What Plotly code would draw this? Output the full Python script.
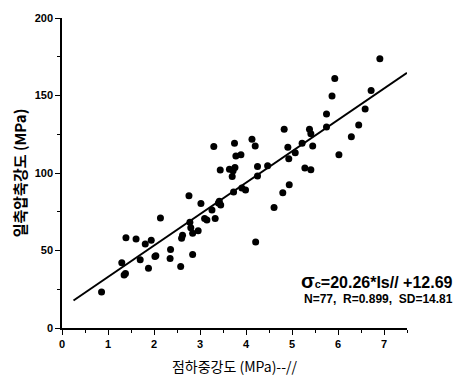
import plotly.graph_objects as go

# Point-load strength index Is (MPa) and uniaxial compressive strength (MPa)
point_load = [
    0.86, 1.30, 1.35, 1.38, 1.39, 1.61, 1.70, 1.81, 1.94, 1.88,
    2.02, 2.04, 2.14, 2.36, 2.35, 2.58, 2.76, 2.60, 2.62, 2.78,
    2.80, 2.84, 2.96, 2.84, 3.02, 3.10, 3.15, 3.26, 3.33, 3.42,
    3.45, 3.40, 3.73, 3.91, 3.99, 3.30, 3.75, 4.13, 4.20, 3.78,
    3.89, 3.44, 3.64, 3.76, 3.70, 3.72, 4.25, 4.25, 4.47, 4.83,
    4.91, 4.93, 5.07, 4.94, 4.80, 4.61, 4.21, 5.22, 5.38, 5.41,
    5.45, 5.28, 5.41, 5.75, 5.75, 5.87, 5.93, 6.02, 6.29, 6.45,
    6.59, 6.72, 6.91,
]
ucs = [
    23.2, 42.1, 34.2, 35.1, 58.2, 57.4, 44.0, 54.2, 56.6, 38.6,
    46.2, 46.6, 70.9, 50.6, 44.9, 39.6, 85.4, 57.9, 59.8, 68.2,
    64.6, 61.1, 62.8, 47.5, 80.4, 70.7, 69.6, 76.1, 70.6, 81.8,
    79.4, 80.7, 87.7, 90.3, 89.1, 117.1, 119.2, 121.7, 117.5, 110.9,
    111.8, 101.9, 102.5, 103.6, 97.7, 101.5, 104.2, 98.1, 104.6, 128.2,
    116.6, 109.2, 113.0, 92.4, 87.2, 77.7, 55.5, 119.2, 128.3, 125.3,
    117.5, 103.2, 102.1, 138.0, 129.7, 149.7, 160.9, 111.8, 123.4, 130.9,
    141.3, 153.2, 173.7,
]

# Regression: sigma_c = 20.26 * Is + 12.69
slope = 20.26
intercept = 12.69
fit_x = [0.25, 7.5]
fit_y = [slope * v + intercept for v in fit_x]

x_ticks = [0, 1, 2, 3, 4, 5, 6, 7]
y_ticks = [0, 50, 100, 150, 200]

tick_font = dict(family="Liberation Sans, Arial", size=11, color="black")
cjk = "Noto Sans CJK KR, Liberation Sans"

fig = go.Figure()
fig.add_trace(go.Scatter(
    x=point_load, y=ucs, mode="markers",
    marker=dict(color="black", size=7, line=dict(width=0)),
    showlegend=False, cliponaxis=False,
))
fig.add_trace(go.Scatter(
    x=fit_x, y=fit_y, mode="lines",
    line=dict(color="black", width=2),
    showlegend=False,
))

axis_common = dict(
    showline=True, linecolor="black", linewidth=1.5,
    ticks="outside", ticklen=5, tickwidth=1.2, tickcolor="black",
    showgrid=False, zeroline=False, tickfont=tick_font,
)
fig.update_xaxes(
    range=[0, 7.5], tickvals=x_ticks, ticktext=[f"<b>{v}</b>" for v in x_ticks],
    minor=dict(dtick=0.5, tick0=0, ticks="outside", ticklen=3, tickcolor="black"),
    title=dict(text="점하중강도 (MPa)--//", font=dict(family=cjk, size=14, color="black"),
               standoff=13),
    **axis_common,
)
fig.update_yaxes(
    range=[0, 200], tickvals=y_ticks, ticktext=[f"<b>{v}</b>" for v in y_ticks],
    minor=dict(dtick=25, tick0=0, ticks="outside", ticklen=3, tickcolor="black"),
    title=dict(text="<b>일축압축강도 (MPa)</b>", font=dict(family=cjk, size=15, color="black"),
               standoff=4),
    **axis_common,
)

fig.add_annotation(
    xref="paper", yref="paper", x=1.14, y=0.152, xanchor="right", yanchor="middle",
    text="<b><span style='font-size:20px'>σ</span><span style='font-size:11px'>c</span>=20.26*Is// +12.69</b>",
    showarrow=False, font=dict(family="Liberation Sans, Arial", size=16, color="black"),
)
fig.add_annotation(
    xref="paper", yref="paper", x=1.14, y=0.092, xanchor="right", yanchor="middle",
    text="<b>N=77,  R=0.899,  SD=14.81</b>",
    showarrow=False, font=dict(family="Liberation Sans, Arial", size=12, color="black"),
)

fig.update_layout(
    width=456, height=385,
    margin=dict(l=62, r=49, t=15, b=54),
    paper_bgcolor="white", plot_bgcolor="white",
)

fig.write_html("out.html")
